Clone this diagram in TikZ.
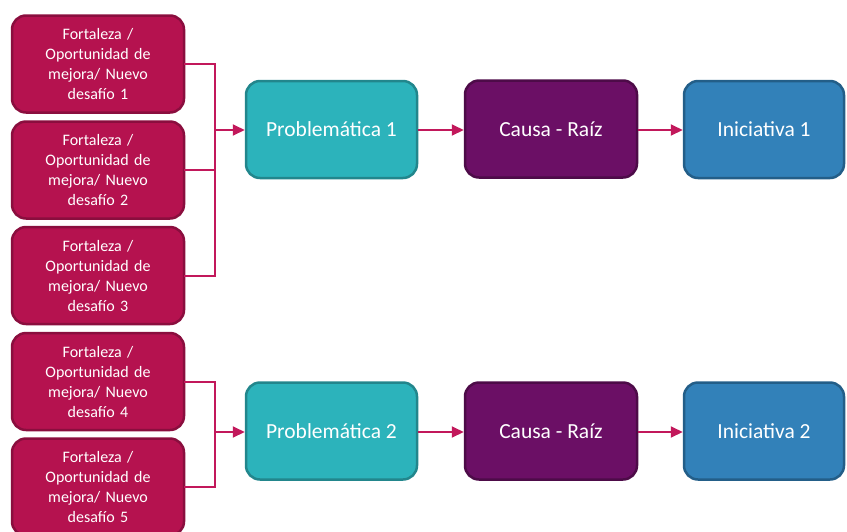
\documentclass[tikz,border=0pt]{standalone}
\usepackage{fontspec}
\setmainfont{Carlito}
\usetikzlibrary{arrows.meta}

\definecolor{fzfill}{HTML}{B5124F}
\definecolor{fzline}{HTML}{8A0E3E}
\definecolor{pbfill}{HTML}{2CB3BB}
\definecolor{pbline}{HTML}{22868C}
\definecolor{crfill}{HTML}{6B0F65}
\definecolor{crline}{HTML}{4D0B48}
\definecolor{inifill}{HTML}{3281B9}
\definecolor{iniline}{HTML}{235E88}
\definecolor{connclr}{HTML}{C2185B}

\tikzset{
  basebox/.style={rounded corners=14pt, line width=2.5pt, text=white,
    align=center, inner sep=2pt},
  fzbox/.style={basebox, fill=fzfill, draw=fzline, minimum width=172pt,
    minimum height=97pt, text width=160pt,
    font=\fontsize{16}{20}\selectfont},
  pbbox/.style={basebox, fill=pbfill, draw=pbline, minimum width=171pt,
    minimum height=97pt, font=\fontsize{21.5}{24}\selectfont},
  crbox/.style={basebox, fill=crfill, draw=crline, minimum width=172pt,
    minimum height=97pt, font=\fontsize{21.5}{24}\selectfont},
  inibox/.style={basebox, fill=inifill, draw=iniline, minimum width=160pt,
    minimum height=97pt, font=\fontsize{21.5}{24}\selectfont},
  conn/.style={draw=connclr, line width=2pt, line cap=rect},
  arr/.style={conn, line cap=butt, -{Triangle[length=12pt,width=11pt]}},
}

\begin{document}
\begin{tikzpicture}[x=1pt,y=-1pt]
\useasboundingbox (0,0) rectangle (847,531);
\clip (0,0) rectangle (847,531);

% strengths / opportunities / challenges
\node[fzbox] (f1) at (98,64)    {Fortaleza /\\Oportunidad de\\mejora/ Nuevo\\desafío 1};
\node[fzbox] (f2) at (98,170)   {Fortaleza /\\Oportunidad de\\mejora/ Nuevo\\desafío 2};
\node[fzbox] (f3) at (98,275.5) {Fortaleza /\\Oportunidad de\\mejora/ Nuevo\\desafío 3};
\node[fzbox] (f4) at (98,381.5) {Fortaleza /\\Oportunidad de\\mejora/ Nuevo\\desafío 4};
\node[fzbox] (f5) at (98,487)   {Fortaleza /\\Oportunidad de\\mejora/ Nuevo\\desafío 5};

% first chain
\node[pbbox]  (p1) at (331.5,129.5) {Problemática 1};
\node[crbox]  (c1) at (551,129)     {Causa - Raíz};
\node[inibox] (i1) at (764,129.5)   {Iniciativa 1};

% second chain
\node[pbbox]  (p2) at (331.5,431) {Problemática 2};
\node[crbox]  (c2) at (551,431)   {Causa - Raíz};
\node[inibox] (i2) at (764,431)   {Iniciativa 2};

% junction points of the brackets
\coordinate (j1) at (215,130);
\coordinate (j2) at (215,432);

% bracket for the first group
\draw[conn] (f1.east) -| (j1);
\draw[conn] (f3.east) -| (j1);
\draw[conn] (f2.east) -- (f2.east -| j1);
\draw[arr] (j1) -- (p1.west |- j1);

% bracket for the second group
\draw[conn] (f4.east) -| (j2);
\draw[conn] (f5.east) -| (j2);
\draw[arr] (j2) -- (p2.west |- j2);

% chain arrows
\draw[arr] (p1.east |- 0,130) -- (c1.west |- 0,130);
\draw[arr] (c1.east |- 0,130) -- (i1.west |- 0,130);
\draw[arr] (p2.east |- 0,432) -- (c2.west |- 0,432);
\draw[arr] (c2.east |- 0,432) -- (i2.west |- 0,432);
\end{tikzpicture}
\end{document}
